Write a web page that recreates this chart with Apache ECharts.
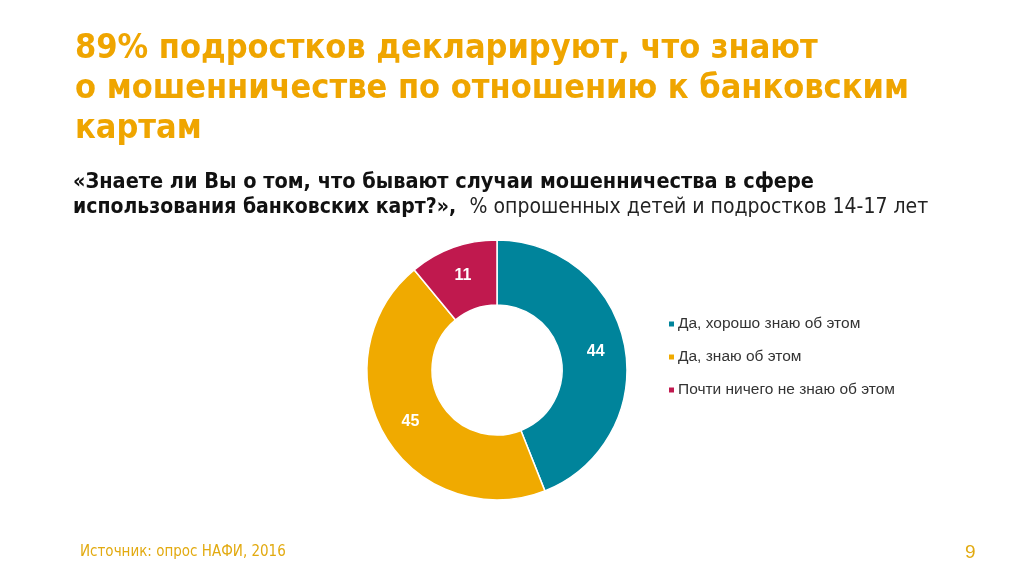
<!DOCTYPE html>
<html><head><meta charset="utf-8">
<script src="https://cdn.jsdelivr.net/npm/echarts@6/dist/echarts.min.js"></script>
<style>html,body{margin:0;padding:0;background:#fff}#c{width:1024px;height:576px}</style>
</head><body><div id="c"></div>
<script>
const categories = ['Да, хорошо знаю об этом', 'Да, знаю об этом', 'Почти ничего не знаю об этом'];
const values = [44, 45, 11];
const colors = ['#00849B', '#F0AA00', '#C0194E'];
const titleLines = ['89% подростков декларируют, что знают', 'о мошенничестве по отношению к банковским', 'картам'];
const questionLines = ['«Знаете ли Вы о том, что бывают случаи мошенничества в сфере', 'использования банковских карт?»,'];
const questionNote = '% опрошенных детей и подростков 14-17 лет';
const sourceText = 'Источник: опрос НАФИ, 2016';
const pageNum = '9';

const chart = echarts.init(document.getElementById('c'), null, {renderer: 'canvas'});
const narrow = '"DejaVu Sans Condensed", "Liberation Sans Narrow", Arial, sans-serif';
chart.setOption({
  backgroundColor: '#fff',
  title: [
    {text: titleLines.join('\n'), left: 70, top: 24,
     textStyle: {color: '#EFA500', fontFamily: narrow, fontWeight: 'bold', fontSize: 34, lineHeight: 40}},
    {text: questionLines[0] + '\n{b|' + questionLines[1] + '}  {n|' + questionNote + '}', left: 68, top: 164,
     textStyle: {color: '#111', fontFamily: narrow, fontWeight: 'bold', fontSize: 21.5, lineHeight: 26,
       rich: {b: {fontFamily: narrow, fontWeight: 'bold', fontSize: 21, color: '#111'},
              n: {fontFamily: narrow, fontWeight: 'normal', fontSize: 21, color: '#222'}}}},
    {text: sourceText, left: 75, top: 540, textStyle: {color: '#E2AA10', fontFamily: narrow, fontWeight: 'normal', fontSize: 15}},
    {text: pageNum, left: 960, top: 538, textStyle: {color: '#E2AA10', fontFamily: 'Liberation Sans, Arial', fontWeight: 'normal', fontSize: 19}}
  ],
  legend: {
    orient: 'vertical', left: 662, top: 311, itemGap: 17,
    itemWidth: 7, itemHeight: 7, icon: 'rect',
    textStyle: {fontFamily: 'Liberation Sans, Arial, sans-serif', fontSize: 15.5, color: '#333', padding: [0,0,0,-2]},
    data: categories
  },
  series: [{
    type: 'pie', center: [497, 370], radius: [65, 130], startAngle: 90, clockwise: true,
    avoidLabelOverlap: false,
    itemStyle: {borderColor: '#fff', borderWidth: 1.5},
    label: {show: true, position: 'inside', formatter: '{c}', color: '#fff', fontSize: 16, fontWeight: 'bold', fontFamily: 'Liberation Sans, Arial, sans-serif'},
    labelLine: {show: false},
    emphasis: {disabled: true},
    data: categories.map((n, i) => ({name: n, value: values[i], itemStyle: {color: colors[i]}}))
  }]
});
</script></body></html>
